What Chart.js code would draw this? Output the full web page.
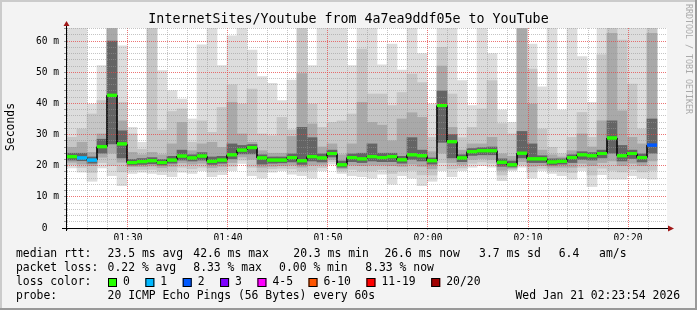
<html>
<head>
<title>InternetSites/Youtube</title>
<script src="https://cdn.jsdelivr.net/npm/chart.js"></script>
<style>
  body { margin: 0; background: #f3f3f3; }
</style>
</head>
<body>
<canvas id="graph" width="697" height="310"></canvas>
<script>
// one bar per minute from 01:23:54, last slot has no data yet
const startTime = [1, 23, 54];
const slots = 60;

// smoke: nested ranges of the 20 pings (ms), outer -> inner
const rttMax = [64.2,64.2,39.8,52.1,64.2,58.5,32.3,27.5,64.2,50.5, 44.1,41.4,35.0,58.8,64.2,52.1,61.7,64.2,57.1,48.6,
  46.4,40.9,47.5,64.2,52.1,64.2,64.2,64.2,52.1,64.2, 64.2,52.4,59.0,50.7,64.2,56.0,39.8,64.2,64.2,47.3,
  39.3,64.2,56.0,37.9,33.9,64.2,59.0,45.3,64.2,37.9, 64.2,55.0,40.3,64.2,64.2,64.2,64.2,64.2,64.2, null];
const rttHi1 = [29.1,31.8,36.6,40.9,64.2,40.3,30.2,25.3,64.2,31.4, 37.4,38.2,27.5,34.4,30.7,38.7,46.0,39.8,44.6,30.2,
  29.6,35.5,31.5,64.2,39.8,32.3,33.9,34.4,36.6,57.4, 43.0,43.0,39.3,43.5,49.4,46.7,29.1,58.0,43.0,29.0,
  32.3,38.2,47.3,33.5,30.2,64.2,51.0,31.8,25.9,23.8, 29.1,37.1,29.1,55.6,64.2,60.3,46.2,31.8,64.2, null];
const rttHi2 = [25.9,27.5,24.3,30.2,64.0,34.4,24.3,23.5,24.3,23.5, 27.0,33.9,24.8,27.0,27.5,25.9,40.3,30.2,27.5,24.8,
  24.0,24.0,29.4,49.6,33.4,26.0,27.0,23.5,27.0,40.3, 33.9,33.0,28.0,35.0,37.0,35.5,24.5,52.0,32.3,25.0,
  27.0,27.0,29.1,23.8,23.0,64.0,39.8,25.0,23.5,22.8, 24.8,30.2,26.0,34.4,62.5,37.6,29.1,27.0,62.5, null];
const rttHi3 = [24.0,24.0,22.8,28.5,60.0,31.2,22.0,22.3,22.6,22.0, 23.0,25.0,23.5,24.2,22.8,23.0,27.0,26.5,26.8,23.5,
  22.8,22.8,23.8,32.3,29.0,23.8,25.0,21.5,23.8,24.0, 27.0,24.0,24.0,23.0,29.0,25.0,22.5,44.0,30.0,23.5,
  25.5,25.8,26.0,22.2,21.5,31.0,27.0,23.2,22.2,22.2, 23.5,24.5,24.2,25.0,34.4,26.5,25.0,23.8,35.0, null];
const rttMedian = [22.9,22.5,21.8,26.1,42.6,27.0,21.0,21.3,21.6,21.0, 21.8,23.1,22.5,23.1,21.4,21.8,23.5,25.0,25.8,22.5,
  21.8,21.8,22.6,21.6,22.9,22.5,23.9,20.3,22.6,22.2, 22.9,22.6,22.9,21.9,23.5,23.2,21.6,39.3,27.7,22.5,
  24.5,24.8,24.8,21.1,20.3,24.0,22.2,22.2,21.2,21.4, 22.6,23.5,23.2,23.9,28.9,23.2,23.9,22.6,26.6, null];
const rttLo3 = [21.8,21.6,20.8,24.0,27.0,22.5,20.2,20.4,20.6,20.2, 20.8,21.8,21.5,21.8,20.4,20.8,22.2,23.8,23.8,20.5,
  20.8,20.9,21.2,20.4,21.5,21.2,22.8,19.5,21.3,21.0, 21.5,21.3,21.3,20.8,22.0,21.5,20.5,27.5,22.5,21.3,
  23.3,23.5,23.5,19.8,19.6,22.5,21.0,21.0,20.2,20.5, 21.0,22.0,21.8,22.5,24.0,21.5,22.3,21.2,24.0, null];
const rttLo2 = [21.1,20.5,20.0,22.7,24.0,21.1,19.7,19.7,19.9,19.4, 19.8,20.9,20.5,20.8,19.4,19.8,21.0,22.8,22.0,19.5,
  19.8,20.0,20.2,19.5,20.2,20.4,22.0,19.0,20.2,20.0, 20.2,20.2,20.0,19.8,20.5,19.8,19.0,24.0,21.0,20.4,
  22.0,22.3,22.0,18.5,19.2,21.3,19.8,20.0,19.5,19.5, 19.5,20.8,20.0,21.0,21.5,20.0,20.8,20.0,21.5, null];
const rttLo1 = [20.3,19.4,17.8,21.0,20.0,18.0,18.6,18.8,18.8,18.3, 18.3,19.5,19.0,19.5,18.0,18.5,19.8,21.8,19.5,18.0,
  19.0,19.2,19.0,18.3,18.5,19.4,21.3,18.3,18.8,18.3, 18.3,18.8,17.5,18.3,18.5,17.0,17.0,21.0,19.0,19.3,
  20.8,21.2,20.8,17.0,18.8,20.3,18.0,19.2,18.5,18.2, 17.8,19.5,17.0,19.2,18.5,18.0,18.8,18.0,18.5, null];
const rttMin = [19.3,17.9,15.0,19.3,16.8,13.6,17.5,17.9,17.5,17.1, 16.5,17.9,17.5,18.4,16.5,17.1,18.4,20.7,16.8,16.0,
  17.9,18.4,17.3,16.8,16.0,18.4,20.5,17.5,16.8,16.5, 16.0,17.3,14.1,16.8,16.0,13.6,15.0,18.4,16.5,18.4,
  19.5,20.0,19.5,15.2,18.4,19.5,16.0,18.4,17.5,16.8, 15.7,18.4,13.3,17.1,15.7,15.7,16.8,16.0,15.7, null];
// lost pings per minute (of 20)
const lossCount = [0,1,1,0,0,0,0,0,0,0, 0,0,0,0,0,0,0,0,0,0, 0,0,0,0,0,0,0,0,0,0,
  0,0,0,0,0,0,0,0,0,0, 0,0,0,0,0,0,0,0,0,0, 0,0,0,0,0,0,0,0,2, null];

const lossLabels = ['0', '1', '2', '3', '4-5', '6-10', '11-19', '20/20'];
const lossUpper  = [0, 1, 2, 3, 5, 10, 19, 20];
const lossColors = ['#26ff00', '#00b8ff', '#0059ff', '#7e00ff', '#ff00ff', '#ff5500', '#ff0000', '#a00000'];
const smokeColors = ['#dddddd', '#c6c6c6', '#a9a9a9', '#646464'];

const yTickLabels = ['0  ', '10 m', '20 m', '30 m', '40 m', '50 m', '60 m'];
const xTickLabels = ['01:30', '01:40', '01:50', '02:00', '02:10', '02:20'];

const rttStats  = ['23.5 ms avg', '42.6 ms max', '20.3 ms min', '26.6 ms now', '3.7 ms sd', '6.4', 'am/s'];
const lossStats = ['0.22 % avg', '8.33 % max', '0.00 % min', '8.33 % now'];
const probeText = '20 ICMP Echo Pings (56 Bytes) every 60s';
const stampText = 'Wed Jan 21 02:23:54 2026';
const titleText = 'InternetSites/Youtube from 4a7ea9ddf05e to YouTube';

const mono = "'DejaVu Sans Mono', monospace";
const t0 = startTime[0] * 60 + startTime[1] + startTime[2] / 60;

// grid: minor every 2 minutes / 2 ms, major every 10
const xGridMinutes = [];
for (let m = Math.ceil(t0); m < t0 + slots; m++) if (m % 2 === 0) xGridMinutes.push(m);
const yGridValues = [];
for (let v = 0; v <= 64; v += 2) yGridValues.push(v);

function band(lo, hi) {
  const pts = [];
  lo.forEach((v, i) => { if (v !== null) pts.push({x: i + 0.5, y: [v, hi[i]]}); });
  return pts;
}
function lossColor(n) {
  const k = lossUpper.findIndex(u => n <= u);
  return lossColors[k < 0 ? lossColors.length - 1 : k];
}
function hhmm(m) {
  const h = Math.floor(m / 60) % 24, mm = m % 60;
  return String(h).padStart(2, '0') + ':' + String(mm).padStart(2, '0');
}

const medianPts = [];
const medianCols = [];
rttMedian.forEach((v, i) => {
  if (v === null) return;
  medianPts.push({x: i + 0.5, y: v});
  medianCols.push(lossColor(lossCount[i]));
});

const smoke = [[rttMin, rttMax], [rttLo1, rttHi1], [rttLo2, rttHi2], [rttLo3, rttHi3]];
const datasets = smoke.map((p, k) => ({
  type: 'bar',
  data: band(p[0], p[1]),
  backgroundColor: smokeColors[k],
  borderWidth: 0,
  grouped: false,
  barPercentage: 1,
  categoryPercentage: 1,
  order: 10 - k
}));
datasets.push({
  type: 'line', data: medianPts, borderColor: '#000', borderWidth: 1,
  stepped: 'middle', pointRadius: 0, order: 2
});
datasets.push({
  type: 'line', data: medianPts, showLine: false, pointStyle: 'line',
  pointRadius: 5, pointBorderWidth: 3, pointBorderColor: medianCols, order: 1
});

const minorGrid = 'rgba(150,150,150,0.55)';
const majorGrid = 'rgba(230,70,70,0.75)';
const xGridColors = xGridMinutes.map(m => m % 10 === 0 ? majorGrid : minorGrid);
const yGridColors = yGridValues.map(v => v % 10 === 0 ? majorGrid : minorGrid);

const decor = {
  id: 'decor',
  beforeDraw(chart) {
    const ctx = chart.ctx, a = chart.chartArea;
    ctx.save();
    ctx.fillStyle = '#f3f3f3';
    ctx.fillRect(0, 0, 697, 310);
    ctx.fillStyle = '#cbcbcb';
    ctx.fillRect(0, 0, 697, 2);
    ctx.fillRect(0, 0, 2, 310);
    ctx.fillStyle = '#999999';
    ctx.fillRect(0, 308, 697, 2);
    ctx.fillRect(695, 0, 2, 310);
    ctx.fillStyle = '#ffffff';
    ctx.fillRect(a.left, a.top, a.right - a.left, a.bottom - a.top);
    ctx.restore();
  },
  afterDraw(chart) {
    const ctx = chart.ctx, a = chart.chartArea;
    // median step line and loss-coloured medians go over the grid
    ctx.save();
    ctx.beginPath();
    ctx.rect(a.left, a.top, a.right - a.left, a.bottom - a.top);
    ctx.clip();
    chart.getDatasetMeta(4).controller.draw();
    chart.getDatasetMeta(5).controller.draw();
    ctx.restore();

    ctx.save();
    // axes with arrows
    ctx.strokeStyle = '#000';
    ctx.lineWidth = 1;
    ctx.beginPath();
    ctx.moveTo(a.left - 0.5, a.bottom + 3);
    ctx.lineTo(a.left - 0.5, a.top - 3);
    ctx.moveTo(a.left - 5, a.bottom + 0.5);
    ctx.lineTo(a.right + 1, a.bottom + 0.5);
    ctx.stroke();
    ctx.fillStyle = '#a01818';
    ctx.beginPath();
    ctx.moveTo(a.left - 3.5, a.top - 2);
    ctx.lineTo(a.left + 2.5, a.top - 2);
    ctx.lineTo(a.left - 0.5, a.top - 7);
    ctx.fill();
    ctx.beginPath();
    ctx.moveTo(a.right + 1, a.bottom - 2.5);
    ctx.lineTo(a.right + 1, a.bottom + 3.5);
    ctx.lineTo(a.right + 7, a.bottom + 0.5);
    ctx.fill();

    // title
    ctx.fillStyle = '#000';
    ctx.textBaseline = 'middle';
    ctx.textAlign = 'center';
    ctx.font = '13.3px ' + mono;
    ctx.fillText(titleText, 348.5, 19.5);

    // y title
    ctx.font = '11.4px ' + mono;
    ctx.save();
    ctx.translate(11, 127);
    ctx.rotate(-Math.PI / 2);
    ctx.fillText('Seconds', 0, 0);
    ctx.restore();

    // watermark
    ctx.save();
    ctx.fillStyle = '#aaaaaa';
    ctx.font = '8.3px ' + mono;
    ctx.textAlign = 'left';
    ctx.translate(688, 4);
    ctx.rotate(Math.PI / 2);
    ctx.fillText('RRDTOOL / TOBI OETIKER', 0, 0);
    ctx.restore();

    // legend
    ctx.textAlign = 'left';
    ctx.font = '11.4px ' + mono;
    const cols = [107.6, 193.3, 293.3, 384.4, 479.1, 558.7, 599.1];
    const lossCols = [107.6, 193.3, 279.1, 365.3];
    ctx.fillText('median rtt:', 16, 254.5);
    rttStats.forEach((s, i) => ctx.fillText(s, cols[i], 254.5));
    ctx.fillText('packet loss:', 16, 268.5);
    lossStats.forEach((s, i) => ctx.fillText(s, lossCols[i], 268.5));
    ctx.fillText('loss color:', 16, 282.5);
    let x = 108;
    lossLabels.forEach((s, i) => {
      ctx.fillStyle = lossColors[i];
      ctx.fillRect(x, 278, 9, 9);
      ctx.strokeStyle = '#000';
      ctx.strokeRect(x + 0.5, 278.5, 8, 8);
      ctx.fillStyle = '#000';
      ctx.fillText(s, x + 15, 282.5);
      x += 15 + ctx.measureText(s).width + 15.5;
    });
    ctx.fillText('probe:', 16, 296.5);
    ctx.fillText(probeText, 107.6, 296.5);
    ctx.textAlign = 'right';
    ctx.fillText(stampText, 680, 296.5);
    ctx.restore();
  }
};

new Chart(document.getElementById('graph'), {
  type: 'bar',
  data: { datasets: datasets },
  options: {
    responsive: false,
    animation: false,
    devicePixelRatio: 1,
    events: [],
    layout: { padding: { left: 0, top: 28, right: 30, bottom: 70 } },
    plugins: { legend: { display: false }, tooltip: { enabled: false }, title: { display: false } },
    scales: {
      x: {
        type: 'linear', min: 0, max: slots, offset: false,
        grid: {
          offset: false, tickLength: 2, z: 1,
          color: c => xGridColors[c.index] || minorGrid,
          tickColor: '#999'
        },
        border: { display: false, dash: [1, 1] },
        ticks: {
          autoSkip: false, maxRotation: 0, padding: 3, color: '#000',
          font: { family: mono, size: 9.6 },
          callback: (v, i) => {
            const lbl = hhmm(xGridMinutes[i]);
            return xTickLabels.includes(lbl) ? lbl : '';
          }
        },
        afterBuildTicks: s => {
          s.ticks = xGridMinutes.map(m => ({ value: m - t0 }));
        },
        afterFit: s => { s.height = 12; }
      },
      y: {
        min: 0, max: 64.2,
        grid: {
          tickLength: 3, z: 1,
          color: c => yGridColors[c.index] || minorGrid,
          tickColor: '#999'
        },
        border: { display: false, dash: [1, 1] },
        ticks: {
          autoSkip: false, padding: 5, color: '#000',
          font: { family: mono, size: 9.6 },
          callback: (v, i) => yGridValues[i] % 10 === 0 ? yTickLabels[yGridValues[i] / 10] : ''
        },
        afterBuildTicks: s => {
          s.ticks = yGridValues.map(v => ({ value: v }));
        },
        afterFit: s => { s.width = 67; }
      }
    }
  },
  plugins: [decor]
});
</script>
</body>
</html>
